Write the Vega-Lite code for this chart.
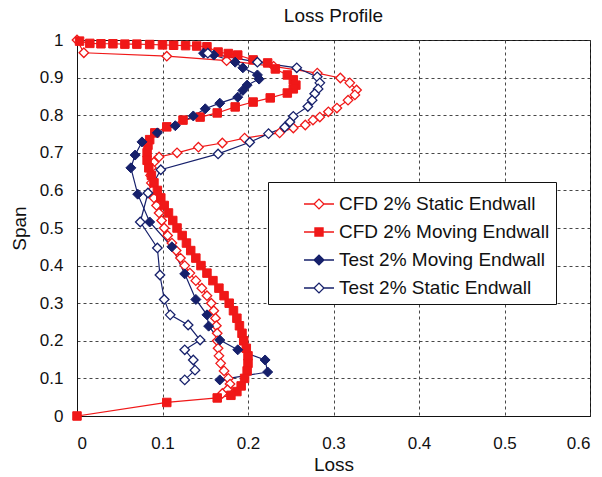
{
  "$schema": "https://vega.github.io/schema/vega-lite/v6.json",
  "width": 513,
  "height": 376,
  "autosize": {"type": "none"},
  "padding": {"left": 77, "top": 40, "right": 12, "bottom": 61},
  "background": "white",
  "title": {"text": "Loss Profile", "font": "Liberation Sans", "fontSize": 19, "fontWeight": "normal", "color": "#111", "offset": 5},
  "config": {
    "view": {"stroke": "#111", "strokeWidth": 1},
    "font": "Liberation Sans",
    "axis": {
      "labelFont": "Liberation Sans", "labelFontSize": 17, "labelColor": "#111",
      "titleFont": "Liberation Sans", "titleFontSize": 19, "titleFontWeight": "normal", "titleColor": "#111",
      "domainColor": "#111", "ticks": false,
      "gridColor": "#333", "gridDash": [3, 3], "gridWidth": 1, "gridOpacity": 0.9
    }
  },
  "datasets": {
    "profiles": [
      {"series": "CFD 2% Static Endwall", "loss": 0.0, "span": 1.0},
      {"series": "CFD 2% Static Endwall", "loss": 0.008, "span": 0.966},
      {"series": "CFD 2% Static Endwall", "loss": 0.105, "span": 0.957},
      {"series": "CFD 2% Static Endwall", "loss": 0.175, "span": 0.945},
      {"series": "CFD 2% Static Endwall", "loss": 0.23, "span": 0.93},
      {"series": "CFD 2% Static Endwall", "loss": 0.281, "span": 0.912},
      {"series": "CFD 2% Static Endwall", "loss": 0.308, "span": 0.899},
      {"series": "CFD 2% Static Endwall", "loss": 0.319, "span": 0.886},
      {"series": "CFD 2% Static Endwall", "loss": 0.327, "span": 0.867},
      {"series": "CFD 2% Static Endwall", "loss": 0.325, "span": 0.854},
      {"series": "CFD 2% Static Endwall", "loss": 0.317, "span": 0.84},
      {"series": "CFD 2% Static Endwall", "loss": 0.304, "span": 0.819},
      {"series": "CFD 2% Static Endwall", "loss": 0.294, "span": 0.809},
      {"series": "CFD 2% Static Endwall", "loss": 0.284, "span": 0.795},
      {"series": "CFD 2% Static Endwall", "loss": 0.276, "span": 0.787},
      {"series": "CFD 2% Static Endwall", "loss": 0.267, "span": 0.774},
      {"series": "CFD 2% Static Endwall", "loss": 0.253, "span": 0.766},
      {"series": "CFD 2% Static Endwall", "loss": 0.237, "span": 0.753},
      {"series": "CFD 2% Static Endwall", "loss": 0.196, "span": 0.739},
      {"series": "CFD 2% Static Endwall", "loss": 0.17, "span": 0.726},
      {"series": "CFD 2% Static Endwall", "loss": 0.142, "span": 0.715},
      {"series": "CFD 2% Static Endwall", "loss": 0.117, "span": 0.7},
      {"series": "CFD 2% Static Endwall", "loss": 0.096, "span": 0.689},
      {"series": "CFD 2% Static Endwall", "loss": 0.09, "span": 0.675},
      {"series": "CFD 2% Static Endwall", "loss": 0.087, "span": 0.66},
      {"series": "CFD 2% Static Endwall", "loss": 0.086, "span": 0.64},
      {"series": "CFD 2% Static Endwall", "loss": 0.087, "span": 0.62},
      {"series": "CFD 2% Static Endwall", "loss": 0.088, "span": 0.6},
      {"series": "CFD 2% Static Endwall", "loss": 0.09, "span": 0.58},
      {"series": "CFD 2% Static Endwall", "loss": 0.093, "span": 0.56},
      {"series": "CFD 2% Static Endwall", "loss": 0.096, "span": 0.54},
      {"series": "CFD 2% Static Endwall", "loss": 0.099, "span": 0.52},
      {"series": "CFD 2% Static Endwall", "loss": 0.102, "span": 0.5},
      {"series": "CFD 2% Static Endwall", "loss": 0.106, "span": 0.48},
      {"series": "CFD 2% Static Endwall", "loss": 0.111, "span": 0.46},
      {"series": "CFD 2% Static Endwall", "loss": 0.116, "span": 0.44},
      {"series": "CFD 2% Static Endwall", "loss": 0.121, "span": 0.42},
      {"series": "CFD 2% Static Endwall", "loss": 0.126, "span": 0.4},
      {"series": "CFD 2% Static Endwall", "loss": 0.132, "span": 0.38},
      {"series": "CFD 2% Static Endwall", "loss": 0.139, "span": 0.36},
      {"series": "CFD 2% Static Endwall", "loss": 0.146, "span": 0.34},
      {"series": "CFD 2% Static Endwall", "loss": 0.152, "span": 0.32},
      {"series": "CFD 2% Static Endwall", "loss": 0.157, "span": 0.3},
      {"series": "CFD 2% Static Endwall", "loss": 0.16, "span": 0.28},
      {"series": "CFD 2% Static Endwall", "loss": 0.162, "span": 0.26},
      {"series": "CFD 2% Static Endwall", "loss": 0.163, "span": 0.24},
      {"series": "CFD 2% Static Endwall", "loss": 0.164, "span": 0.22},
      {"series": "CFD 2% Static Endwall", "loss": 0.164, "span": 0.2},
      {"series": "CFD 2% Static Endwall", "loss": 0.165, "span": 0.18},
      {"series": "CFD 2% Static Endwall", "loss": 0.166, "span": 0.16},
      {"series": "CFD 2% Static Endwall", "loss": 0.168, "span": 0.14},
      {"series": "CFD 2% Static Endwall", "loss": 0.172, "span": 0.12},
      {"series": "CFD 2% Static Endwall", "loss": 0.177, "span": 0.1},
      {"series": "CFD 2% Static Endwall", "loss": 0.179, "span": 0.085},
      {"series": "CFD 2% Static Endwall", "loss": 0.176, "span": 0.07},
      {"series": "CFD 2% Static Endwall", "loss": 0.17, "span": 0.06},

      {"series": "CFD 2% Moving Endwall", "loss": 0.003, "span": 0.997},
      {"series": "CFD 2% Moving Endwall", "loss": 0.015, "span": 0.991},
      {"series": "CFD 2% Moving Endwall", "loss": 0.028, "span": 0.99},
      {"series": "CFD 2% Moving Endwall", "loss": 0.042, "span": 0.99},
      {"series": "CFD 2% Moving Endwall", "loss": 0.056, "span": 0.989},
      {"series": "CFD 2% Moving Endwall", "loss": 0.07, "span": 0.989},
      {"series": "CFD 2% Moving Endwall", "loss": 0.085, "span": 0.988},
      {"series": "CFD 2% Moving Endwall", "loss": 0.1, "span": 0.987},
      {"series": "CFD 2% Moving Endwall", "loss": 0.113, "span": 0.986},
      {"series": "CFD 2% Moving Endwall", "loss": 0.127, "span": 0.985},
      {"series": "CFD 2% Moving Endwall", "loss": 0.14, "span": 0.984},
      {"series": "CFD 2% Moving Endwall", "loss": 0.152, "span": 0.982},
      {"series": "CFD 2% Moving Endwall", "loss": 0.165, "span": 0.968},
      {"series": "CFD 2% Moving Endwall", "loss": 0.177, "span": 0.964},
      {"series": "CFD 2% Moving Endwall", "loss": 0.188, "span": 0.96},
      {"series": "CFD 2% Moving Endwall", "loss": 0.206, "span": 0.947},
      {"series": "CFD 2% Moving Endwall", "loss": 0.223, "span": 0.939},
      {"series": "CFD 2% Moving Endwall", "loss": 0.232, "span": 0.923},
      {"series": "CFD 2% Moving Endwall", "loss": 0.246, "span": 0.907},
      {"series": "CFD 2% Moving Endwall", "loss": 0.253, "span": 0.894},
      {"series": "CFD 2% Moving Endwall", "loss": 0.256, "span": 0.88},
      {"series": "CFD 2% Moving Endwall", "loss": 0.253, "span": 0.87},
      {"series": "CFD 2% Moving Endwall", "loss": 0.246, "span": 0.859},
      {"series": "CFD 2% Moving Endwall", "loss": 0.226, "span": 0.846},
      {"series": "CFD 2% Moving Endwall", "loss": 0.206, "span": 0.835},
      {"series": "CFD 2% Moving Endwall", "loss": 0.185, "span": 0.822},
      {"series": "CFD 2% Moving Endwall", "loss": 0.164, "span": 0.806},
      {"series": "CFD 2% Moving Endwall", "loss": 0.144, "span": 0.795},
      {"series": "CFD 2% Moving Endwall", "loss": 0.124, "span": 0.787},
      {"series": "CFD 2% Moving Endwall", "loss": 0.105, "span": 0.769},
      {"series": "CFD 2% Moving Endwall", "loss": 0.091, "span": 0.753},
      {"series": "CFD 2% Moving Endwall", "loss": 0.085, "span": 0.735},
      {"series": "CFD 2% Moving Endwall", "loss": 0.083, "span": 0.72},
      {"series": "CFD 2% Moving Endwall", "loss": 0.082, "span": 0.7},
      {"series": "CFD 2% Moving Endwall", "loss": 0.082, "span": 0.68},
      {"series": "CFD 2% Moving Endwall", "loss": 0.084, "span": 0.66},
      {"series": "CFD 2% Moving Endwall", "loss": 0.087, "span": 0.64},
      {"series": "CFD 2% Moving Endwall", "loss": 0.09, "span": 0.62},
      {"series": "CFD 2% Moving Endwall", "loss": 0.094, "span": 0.6},
      {"series": "CFD 2% Moving Endwall", "loss": 0.098, "span": 0.58},
      {"series": "CFD 2% Moving Endwall", "loss": 0.102, "span": 0.56},
      {"series": "CFD 2% Moving Endwall", "loss": 0.107, "span": 0.54},
      {"series": "CFD 2% Moving Endwall", "loss": 0.112, "span": 0.52},
      {"series": "CFD 2% Moving Endwall", "loss": 0.117, "span": 0.5},
      {"series": "CFD 2% Moving Endwall", "loss": 0.123, "span": 0.48},
      {"series": "CFD 2% Moving Endwall", "loss": 0.128, "span": 0.46},
      {"series": "CFD 2% Moving Endwall", "loss": 0.133, "span": 0.44},
      {"series": "CFD 2% Moving Endwall", "loss": 0.139, "span": 0.42},
      {"series": "CFD 2% Moving Endwall", "loss": 0.145, "span": 0.4},
      {"series": "CFD 2% Moving Endwall", "loss": 0.152, "span": 0.38},
      {"series": "CFD 2% Moving Endwall", "loss": 0.159, "span": 0.36},
      {"series": "CFD 2% Moving Endwall", "loss": 0.166, "span": 0.34},
      {"series": "CFD 2% Moving Endwall", "loss": 0.172, "span": 0.32},
      {"series": "CFD 2% Moving Endwall", "loss": 0.178, "span": 0.3},
      {"series": "CFD 2% Moving Endwall", "loss": 0.183, "span": 0.28},
      {"series": "CFD 2% Moving Endwall", "loss": 0.187, "span": 0.26},
      {"series": "CFD 2% Moving Endwall", "loss": 0.19, "span": 0.24},
      {"series": "CFD 2% Moving Endwall", "loss": 0.193, "span": 0.22},
      {"series": "CFD 2% Moving Endwall", "loss": 0.195, "span": 0.2},
      {"series": "CFD 2% Moving Endwall", "loss": 0.198, "span": 0.18},
      {"series": "CFD 2% Moving Endwall", "loss": 0.2, "span": 0.16},
      {"series": "CFD 2% Moving Endwall", "loss": 0.2, "span": 0.14},
      {"series": "CFD 2% Moving Endwall", "loss": 0.199, "span": 0.12},
      {"series": "CFD 2% Moving Endwall", "loss": 0.196, "span": 0.1},
      {"series": "CFD 2% Moving Endwall", "loss": 0.192, "span": 0.08},
      {"series": "CFD 2% Moving Endwall", "loss": 0.187, "span": 0.065},
      {"series": "CFD 2% Moving Endwall", "loss": 0.18, "span": 0.055},
      {"series": "CFD 2% Moving Endwall", "loss": 0.164, "span": 0.048},
      {"series": "CFD 2% Moving Endwall", "loss": 0.105, "span": 0.036},
      {"series": "CFD 2% Moving Endwall", "loss": 0.0, "span": 0.0},

      {"series": "Test 2% Moving Endwall", "loss": 0.148, "span": 0.965},
      {"series": "Test 2% Moving Endwall", "loss": 0.16, "span": 0.96},
      {"series": "Test 2% Moving Endwall", "loss": 0.185, "span": 0.941},
      {"series": "Test 2% Moving Endwall", "loss": 0.194, "span": 0.926},
      {"series": "Test 2% Moving Endwall", "loss": 0.211, "span": 0.907},
      {"series": "Test 2% Moving Endwall", "loss": 0.213, "span": 0.896},
      {"series": "Test 2% Moving Endwall", "loss": 0.199, "span": 0.88},
      {"series": "Test 2% Moving Endwall", "loss": 0.194, "span": 0.866},
      {"series": "Test 2% Moving Endwall", "loss": 0.188, "span": 0.848},
      {"series": "Test 2% Moving Endwall", "loss": 0.167, "span": 0.832},
      {"series": "Test 2% Moving Endwall", "loss": 0.15, "span": 0.817},
      {"series": "Test 2% Moving Endwall", "loss": 0.136, "span": 0.798},
      {"series": "Test 2% Moving Endwall", "loss": 0.115, "span": 0.772},
      {"series": "Test 2% Moving Endwall", "loss": 0.094, "span": 0.753},
      {"series": "Test 2% Moving Endwall", "loss": 0.076, "span": 0.729},
      {"series": "Test 2% Moving Endwall", "loss": 0.068, "span": 0.694},
      {"series": "Test 2% Moving Endwall", "loss": 0.063, "span": 0.66},
      {"series": "Test 2% Moving Endwall", "loss": 0.071, "span": 0.59},
      {"series": "Test 2% Moving Endwall", "loss": 0.085, "span": 0.516},
      {"series": "Test 2% Moving Endwall", "loss": 0.111, "span": 0.45},
      {"series": "Test 2% Moving Endwall", "loss": 0.126, "span": 0.378},
      {"series": "Test 2% Moving Endwall", "loss": 0.139, "span": 0.31},
      {"series": "Test 2% Moving Endwall", "loss": 0.152, "span": 0.269},
      {"series": "Test 2% Moving Endwall", "loss": 0.154, "span": 0.239},
      {"series": "Test 2% Moving Endwall", "loss": 0.167, "span": 0.202},
      {"series": "Test 2% Moving Endwall", "loss": 0.188, "span": 0.176},
      {"series": "Test 2% Moving Endwall", "loss": 0.22, "span": 0.149},
      {"series": "Test 2% Moving Endwall", "loss": 0.223, "span": 0.117},
      {"series": "Test 2% Moving Endwall", "loss": 0.167, "span": 0.096},

      {"series": "Test 2% Static Endwall", "loss": 0.153, "span": 0.965},
      {"series": "Test 2% Static Endwall", "loss": 0.211, "span": 0.941},
      {"series": "Test 2% Static Endwall", "loss": 0.257, "span": 0.926},
      {"series": "Test 2% Static Endwall", "loss": 0.281, "span": 0.902},
      {"series": "Test 2% Static Endwall", "loss": 0.284, "span": 0.886},
      {"series": "Test 2% Static Endwall", "loss": 0.282, "span": 0.87},
      {"series": "Test 2% Static Endwall", "loss": 0.278, "span": 0.857},
      {"series": "Test 2% Static Endwall", "loss": 0.275, "span": 0.84},
      {"series": "Test 2% Static Endwall", "loss": 0.27, "span": 0.823},
      {"series": "Test 2% Static Endwall", "loss": 0.253, "span": 0.797},
      {"series": "Test 2% Static Endwall", "loss": 0.249, "span": 0.782},
      {"series": "Test 2% Static Endwall", "loss": 0.243, "span": 0.768},
      {"series": "Test 2% Static Endwall", "loss": 0.224, "span": 0.751},
      {"series": "Test 2% Static Endwall", "loss": 0.202, "span": 0.728},
      {"series": "Test 2% Static Endwall", "loss": 0.165, "span": 0.697},
      {"series": "Test 2% Static Endwall", "loss": 0.098, "span": 0.655},
      {"series": "Test 2% Static Endwall", "loss": 0.083, "span": 0.593},
      {"series": "Test 2% Static Endwall", "loss": 0.074, "span": 0.516},
      {"series": "Test 2% Static Endwall", "loss": 0.094, "span": 0.447},
      {"series": "Test 2% Static Endwall", "loss": 0.097, "span": 0.375},
      {"series": "Test 2% Static Endwall", "loss": 0.102, "span": 0.31},
      {"series": "Test 2% Static Endwall", "loss": 0.109, "span": 0.269},
      {"series": "Test 2% Static Endwall", "loss": 0.13, "span": 0.242},
      {"series": "Test 2% Static Endwall", "loss": 0.144, "span": 0.202},
      {"series": "Test 2% Static Endwall", "loss": 0.126, "span": 0.176},
      {"series": "Test 2% Static Endwall", "loss": 0.136, "span": 0.149},
      {"series": "Test 2% Static Endwall", "loss": 0.138, "span": 0.122},
      {"series": "Test 2% Static Endwall", "loss": 0.126, "span": 0.096}
    ]
  },
  "data": {"name": "profiles"},
  "encoding": {
    "x": {"field": "loss", "type": "quantitative", "title": "Loss",
          "scale": {"domain": [0, 0.6], "nice": false},
          "axis": {"values": [0, 0.1, 0.2, 0.3, 0.4, 0.5, 0.6], "format": "~g", "labelPadding": 19, "titlePadding": 4, "grid": true}},
    "y": {"field": "span", "type": "quantitative", "title": "Span",
          "scale": {"domain": [0, 1], "nice": false},
          "axis": {"values": [0, 0.1, 0.2, 0.3, 0.4, 0.5, 0.6, 0.7, 0.8, 0.9, 1], "format": "~g", "labelPadding": 14, "titlePadding": 10, "grid": true}}
  },
  "layer": [
    {
      "mark": {"type": "line", "strokeWidth": 1.2, "clip": true},
      "encoding": {
        "order": {"value": null},
        "color": {
          "field": "series", "type": "nominal",
          "scale": {
            "domain": ["CFD 2% Static Endwall", "CFD 2% Moving Endwall", "Test 2% Moving Endwall", "Test 2% Static Endwall"],
            "range": ["#f01818", "#f01818", "#16206b", "#16206b"]
          },
          "legend": {
            "title": null,
            "orient": "none",
            "legendX": 191,
            "legendY": 142,
            "direction": "vertical",
            "padding": 6,
            "fillColor": "white",
            "strokeColor": "#111",
            "labelFont": "Liberation Sans",
            "labelFontSize": 19,
            "labelColor": "#111",
            "labelLimit": 400,
            "labelOffset": 4,
            "rowPadding": 2,
            "symbolSize": 900,
            "symbolOffset": 29,
            "symbolStrokeWidth": 1.3,
            "encode": {
              "symbols": {
                "update": {
                  "shape": {"signal": "datum.value === 'CFD 2% Moving Endwall' ? 'M-1,0H-0.27M0.27,0H1M-0.27,-0.27H0.27V0.27H-0.27Z' : 'M-1,0H-0.33M0.33,0H1M-0.33,0L0,-0.33L0.33,0L0,0.33Z'"},
                  "fill": {"signal": "datum.value === 'CFD 2% Moving Endwall' ? '#f01818' : datum.value === 'Test 2% Moving Endwall' ? '#16206b' : '#ffffff'"},
                  "size": {"value": 900},
                  "strokeWidth": {"value": 1.3},
                  "opacity": {"value": 1},
                  "fillOpacity": {"value": 1}
                }
              }
            }
          }
        }
      }
    },
    {
      "transform": [{"filter": "datum.series === 'CFD 2% Static Endwall'"}],
      "mark": {"type": "point", "shape": "diamond", "size": 90, "strokeWidth": 1.3, "opacity": 1, "filled": false, "stroke": "#f01818", "fill": "#ffffff", "clip": false}
    },
    {
      "transform": [{"filter": "datum.series === 'CFD 2% Moving Endwall'"}],
      "mark": {"type": "point", "shape": "square", "size": 72, "strokeWidth": 1, "opacity": 1, "filled": true, "fill": "#f01818", "stroke": "#f01818", "clip": false}
    },
    {
      "transform": [{"filter": "datum.series === 'Test 2% Moving Endwall'"}],
      "mark": {"type": "point", "shape": "diamond", "size": 100, "strokeWidth": 1, "opacity": 1, "filled": true, "fill": "#16206b", "stroke": "#16206b", "clip": false}
    },
    {
      "transform": [{"filter": "datum.series === 'Test 2% Static Endwall'"}],
      "mark": {"type": "point", "shape": "diamond", "size": 90, "strokeWidth": 1.3, "opacity": 1, "filled": false, "stroke": "#16206b", "fill": "#ffffff", "clip": false}
    }
  ]
}
